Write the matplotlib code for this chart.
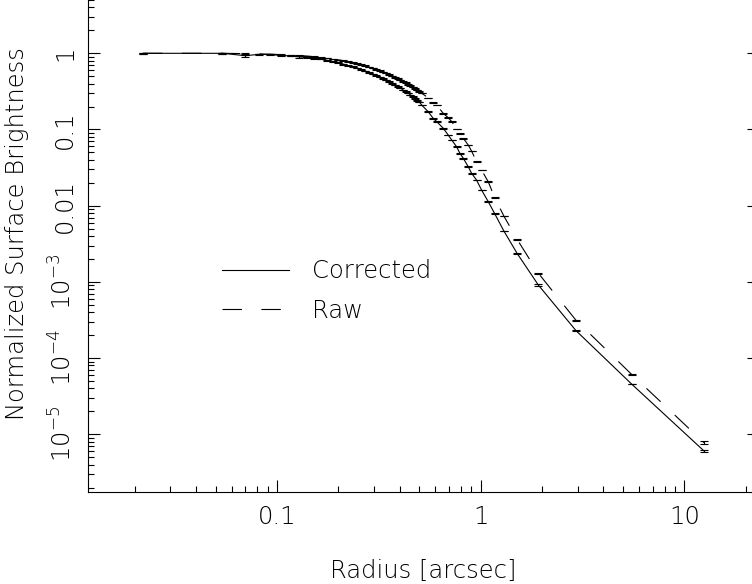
import numpy as np
import matplotlib
matplotlib.use("Agg")
import matplotlib.pyplot as plt
from matplotlib.ticker import FixedLocator, FixedFormatter, LogLocator, NullFormatter

# ---------------- data ----------------
radius = [0.022, 0.054, 0.070, 0.082, 0.092, 0.105, 0.117, 0.128, 0.140, 0.152,
          0.164, 0.176, 0.188, 0.200, 0.212, 0.224, 0.236, 0.248, 0.260, 0.272,
          0.284, 0.296, 0.308, 0.320, 0.332, 0.344, 0.356, 0.368, 0.380, 0.392,
          0.404, 0.416, 0.428, 0.440, 0.452, 0.464, 0.476, 0.488, 0.500, 0.513,
          0.553, 0.585, 0.608, 0.655, 0.693, 0.721, 0.762, 0.791, 0.822, 0.869,
          0.903, 0.955, 1.01, 1.09, 1.17, 1.30, 1.51, 1.92, 2.94, 5.51, 12.5]

corrected = [1.0, 1.0, 0.93, 0.97, 0.96, 0.94, 0.92, 0.90, 0.88, 0.86,
             0.84, 0.81, 0.78, 0.75, 0.72, 0.69, 0.665, 0.64, 0.61, 0.585,
             0.56, 0.535, 0.51, 0.49, 0.465, 0.445, 0.425, 0.405, 0.385, 0.365,
             0.35, 0.33, 0.315, 0.30, 0.285, 0.27, 0.255, 0.242, 0.23, 0.21,
             0.171, 0.140, 0.127, 0.104, 0.0847, 0.0728, 0.0594, 0.0487, 0.0419, 0.0325,
             0.0266, 0.0217, 0.0161, 0.0113, 0.00794, 0.00466, 0.00237, 0.00091, 2.29e-4, 4.57e-5, 6.04e-6]

raw = [1.0, 1.0, 0.99, 0.98, 0.975, 0.96, 0.95, 0.935, 0.92, 0.90,
       0.885, 0.865, 0.845, 0.82, 0.80, 0.78, 0.755, 0.73, 0.71, 0.685,
       0.66, 0.64, 0.615, 0.59, 0.57, 0.55, 0.525, 0.505, 0.485, 0.465,
       0.445, 0.43, 0.41, 0.39, 0.375, 0.36, 0.345, 0.33, 0.315, 0.30,
       0.26, 0.228, 0.21, 0.163, 0.143, 0.127, 0.102, 0.089, 0.0767, 0.0626,
       0.052, 0.0378, 0.0294, 0.0206, 0.0129, 0.00732, 0.00362, 0.0013, 3.13e-4, 6.12e-5, 7.76e-6]

# fractional 1-sigma errors
corrected_err = [0.01, 0.01, 0.03, 0.01, 0.01, 0.02, 0.01, 0.03, 0.01, 0.01,
                 0.01, 0.01, 0.01, 0.01, 0.01, 0.01, 0.01, 0.01, 0.01, 0.01,
                 0.01, 0.01, 0.01, 0.01, 0.01, 0.01, 0.01, 0.01, 0.01, 0.01,
                 0.01, 0.01, 0.01, 0.01, 0.01, 0.01, 0.01, 0.01, 0.01, 0.01,
                 0.01, 0.01, 0.01, 0.01, 0.01, 0.01, 0.01, 0.01, 0.01, 0.01,
                 0.01, 0.01, 0.01, 0.01, 0.01, 0.01, 0.01, 0.02, 0.01, 0.01, 0.04]
raw_err = [0.01, 0.01, 0.01, 0.01, 0.01, 0.01, 0.01, 0.01, 0.01, 0.01,
           0.01, 0.01, 0.01, 0.01, 0.01, 0.01, 0.01, 0.01, 0.01, 0.01,
           0.01, 0.01, 0.01, 0.01, 0.01, 0.01, 0.01, 0.01, 0.01, 0.01,
           0.01, 0.01, 0.01, 0.01, 0.01, 0.01, 0.01, 0.01, 0.01, 0.01,
           0.01, 0.01, 0.01, 0.01, 0.01, 0.01, 0.01, 0.01, 0.01, 0.01,
           0.01, 0.01, 0.01, 0.01, 0.01, 0.01, 0.01, 0.02, 0.02, 0.02, 0.04]

y_tick_values = [1e-5, 1e-4, 1e-3, 1e-2, 1e-1, 1.0]
y_tick_labels = [r"$10^{-5}$", r"$10^{-4}$", r"$10^{-3}$", "0.01", "0.1", "1"]
x_tick_values = [0.1, 1.0, 10.0]
x_tick_labels = ["0.1", "1", "10"]

series_labels = ["Corrected", "Raw"]
x_label = "Radius [arcsec]"
y_label = "Normalized Surface Brightness"

# ---------------- figure ----------------
plt.rcParams["font.family"] = ["DejaVu Sans"]
plt.rcParams["font.weight"] = "light"
plt.rcParams["axes.labelweight"] = "light"
plt.rcParams["mathtext.fontset"] = "custom"
plt.rcParams["mathtext.rm"] = "DejaVu Sans:light"
plt.rcParams["mathtext.it"] = "DejaVu Sans:light"
plt.rcParams["mathtext.default"] = "regular"
plt.rcParams["lines.scale_dashes"] = False

FS = 17.5
fig = plt.figure(figsize=(7.52, 5.84), dpi=100)
W, H = 752, 584
# the reference is a crop of a larger plot: top and right frame lie outside the picture
left, right, top, bottom = 88, 759, -20, 492
ax = fig.add_axes([left / W, 1 - bottom / H, (right - left) / W, (bottom - top) / H])

r = np.array(radius)
c = np.array(corrected)
rw = np.array(raw)
ce = c * np.array(corrected_err)
re_ = rw * np.array(raw_err)

lw = 0.8
dash = (0, (14, 14))
ax.plot(r, c, color="k", lw=lw, label=series_labels[0])
ax.plot(r, rw, color="k", lw=lw, linestyle=dash, label=series_labels[1])
ax.errorbar(r, c, yerr=ce, fmt="none", ecolor="k", elinewidth=lw, capsize=2.6, capthick=lw)
ax.errorbar(r, rw, yerr=re_, fmt="none", ecolor="k", elinewidth=lw, capsize=2.6, capthick=lw)

ax.set_xscale("log")
ax.set_yscale("log")
dex_x = 203.7
ax.set_xlim(10 ** (-1 - (277 - left) / dex_x), 10 ** (1 + (right - 684.3) / dex_x))
dec = 76.2
ax.set_ylim(10 ** (-(bottom - 53.3) / dec), 10 ** ((53.3 - top) / dec))

ax.xaxis.set_major_locator(FixedLocator(x_tick_values))
ax.xaxis.set_major_formatter(FixedFormatter(x_tick_labels))
ax.xaxis.set_minor_locator(LogLocator(base=10, subs=np.arange(2, 10), numticks=100))
ax.xaxis.set_minor_formatter(NullFormatter())
ax.yaxis.set_major_locator(FixedLocator(y_tick_values))
ax.yaxis.set_major_formatter(FixedFormatter(y_tick_labels))
ax.yaxis.set_minor_locator(LogLocator(base=10, subs=np.arange(2, 10), numticks=100))
ax.yaxis.set_minor_formatter(NullFormatter())

ax.tick_params(which="both", direction="in", top=True, right=True, width=0.8,
               labelsize=FS, labelcolor="k")
ax.tick_params(which="major", length=8.6)
ax.tick_params(which="minor", length=4.3)
ax.tick_params(axis="x", pad=9)
ax.tick_params(axis="y", pad=8)
for lab in ax.get_yticklabels():
    lab.set_rotation(90)
    lab.set_va("center")
for s in ax.spines.values():
    s.set_linewidth(0.8)

ax.set_xlabel(x_label, fontsize=FS, labelpad=22)
ax.set_ylabel(y_label, fontsize=FS)
ax.yaxis.set_label_coords((29 - left) / (right - left), (bottom - 234) / (bottom - top))

leg = ax.legend(loc="center left", bbox_to_anchor=(200 / W, 1 - 291 / H),
                bbox_transform=fig.transFigure, frameon=False, fontsize=FS,
                handlelength=2.75, handletextpad=0.95, labelspacing=0.62)

fig.savefig("out.png", dpi=100)
